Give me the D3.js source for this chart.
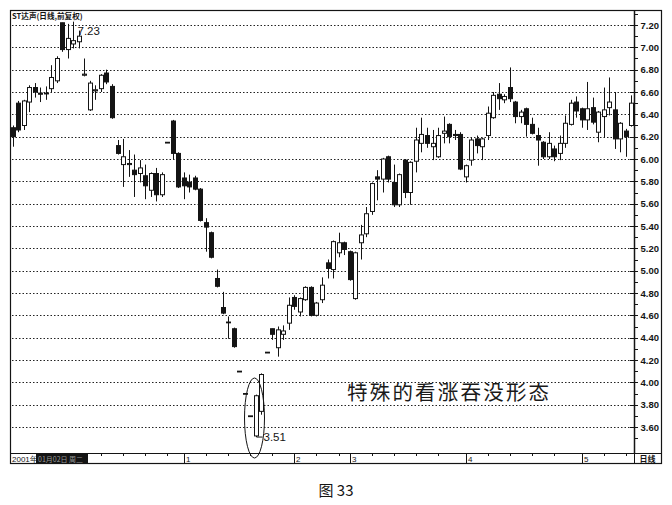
<!DOCTYPE html>
<html><head><meta charset="utf-8">
<script src="https://cdn.jsdelivr.net/npm/d3@7"></script>
<style>body{margin:0;background:#fff}svg{display:block}</style>
</head><body>
<svg id="c" width="672" height="505"></svg>
<script>
// ---- data ----
const title = "ST达声(日线,前复权)";
const opens = [6.28,6.50,6.30,6.51,6.64,6.59,6.59,6.63,6.70,7.22,
6.98,7.03,7.05,6.75,6.44,6.61,6.63,6.77,6.65,6.12,
5.95,5.95,5.90,5.87,5.85,5.72,5.87,5.68,6.15,6.34,
6.05,5.83,5.79,5.83,5.73,5.43,5.34,4.93,4.67,4.54,
4.48,4.10,3.90,3.70,3.52,3.74,4.27,4.48,4.31,4.43,
4.53,4.76,4.63,4.74,4.85,4.60,4.74,5.07,5.01,5.16,
5.25,5.17,4.75,5.25,5.33,5.53,5.84,5.82,6.02,5.79,
5.59,5.99,5.70,5.98,6.14,6.21,6.11,6.02,6.23,6.31,
6.22,6.22,5.84,5.99,6.18,6.11,6.21,6.37,6.58,6.53,
6.64,6.51,6.38,6.45,6.31,6.21,6.15,6.02,6.09,6.05,
6.14,6.31,6.51,6.45,6.35,6.46,6.24,6.38,6.46,6.44,
6.18,6.25,6.30];
const closes = [6.20,6.26,6.52,6.64,6.60,6.58,6.59,6.73,6.90,6.98,
7.08,7.06,7.10,6.76,6.68,6.62,6.75,6.69,6.37,6.05,
6.02,5.96,5.86,5.92,5.76,5.87,5.68,5.86,6.15,6.05,
5.75,5.76,5.75,5.73,5.45,5.39,5.12,4.86,4.62,4.54,
4.32,4.10,3.90,3.70,3.88,4.07,4.27,4.43,4.47,4.46,
4.69,4.68,4.75,4.85,4.60,4.71,4.87,5.02,5.26,5.25,
5.19,4.92,5.16,5.32,5.51,5.78,5.82,6.00,5.82,5.59,
5.86,5.70,5.97,6.17,6.22,6.14,6.14,6.21,6.25,6.20,
6.21,5.91,5.94,6.17,6.12,6.18,6.41,6.57,6.54,6.56,
6.54,6.38,6.42,6.31,6.23,6.17,6.02,6.14,6.02,6.14,
6.32,6.50,6.43,6.35,6.45,6.33,6.42,6.44,6.51,6.18,
6.32,6.20,6.50];
const highs = [6.30,6.52,6.53,6.66,6.68,6.64,6.65,6.84,6.92,7.22,
7.21,7.23,7.15,6.90,6.70,6.66,6.76,6.80,6.67,6.17,
6.18,6.08,6.04,5.99,5.95,5.88,5.92,5.88,6.15,6.35,
6.06,5.88,5.86,5.85,5.74,5.47,5.35,5.01,4.81,4.59,
4.49,4.10,3.90,3.70,3.89,4.08,4.27,4.48,4.50,4.51,
4.76,4.78,4.76,4.86,4.86,4.72,4.94,5.10,5.27,5.34,
5.26,5.18,5.17,5.41,5.57,5.79,5.90,6.01,6.03,5.95,
5.87,6.00,5.98,6.28,6.37,6.28,6.26,6.28,6.38,6.32,
6.26,6.24,5.95,6.19,6.21,6.19,6.47,6.60,6.68,6.58,
6.82,6.52,6.44,6.46,6.37,6.28,6.16,6.24,6.12,6.21,
6.39,6.53,6.56,6.46,6.69,6.55,6.43,6.64,6.73,6.60,
6.33,6.27,6.57];
const lows = [6.11,6.24,6.26,6.42,6.55,6.51,6.53,6.60,6.68,6.96,
6.90,6.99,6.99,6.74,6.43,6.53,6.60,6.67,6.36,6.04,
5.75,5.84,5.66,5.79,5.64,5.66,5.62,5.66,6.15,6.00,
5.74,5.64,5.70,5.72,5.44,5.17,5.11,4.85,4.61,4.39,
4.31,4.10,3.90,3.70,3.51,3.71,4.27,4.38,4.23,4.38,
4.47,4.65,4.59,4.73,4.59,4.59,4.71,4.93,4.93,5.12,
5.14,4.91,4.74,5.10,5.30,5.50,5.63,5.70,5.79,5.57,
5.57,5.65,5.59,5.88,6.06,6.10,5.99,6.01,6.14,6.14,
6.17,5.90,5.79,5.94,6.05,5.99,6.17,6.36,6.44,6.50,
6.51,6.32,6.32,6.20,6.22,5.94,6.00,6.00,5.98,5.99,
6.10,6.30,6.37,6.28,6.26,6.31,6.15,6.19,6.39,6.09,
6.06,6.02,6.29];
const monthStarts = [31,51,61,82,103];
const monthLabels = ["1","2","3","4","5"];
const priceTicks = [3.6,3.8,4.0,4.2,4.4,4.6,4.8,5.0,5.2,5.4,5.6,5.8,6.0,6.2,6.4,6.6,6.8,7.0,7.2];
const highLabel = "7.23", lowLabel = "3.51";
const noteText = "特殊的看涨吞没形态";
const caption = "图 33";

// ---- layout ----
const svg = d3.select("#c");
const L = 10, R = 634, T = 10, B = 453, AX = 661, SH = 10;
const n = opens.length;
const x = d3.scaleBand().domain(d3.range(n)).range([L, R]).paddingInner(0.28).paddingOuter(0.1);
const y = d3.scaleLinear().domain([3.6, 7.2]).range([427, 25]);
const ink = "#141414";

// frame
svg.append("rect").attr("x", L+0.5).attr("y", T+0.5).attr("width", AX-L).attr("height", B+SH-T)
  .attr("fill", "none").attr("stroke", ink).attr("stroke-width", 1.2);

// grid
svg.append("g").selectAll("line").data(priceTicks).join("line")
  .attr("x1", L+2).attr("x2", R-2)
  .attr("y1", d => Math.round(y(d))+0.5).attr("y2", d => Math.round(y(d))+0.5)
  .attr("stroke", "#222").attr("stroke-width", 1).attr("stroke-dasharray", "1.5,2");

// right axis
const ya = d3.axisRight(y).tickValues(priceTicks).tickFormat(d3.format(".2f")).tickSize(0).tickPadding(0);
const gA = svg.append("g").attr("transform", `translate(${R+0.5},0)`).call(ya);
gA.select(".domain").attr("stroke", ink).attr("stroke-width", 1.5).attr("d", `M0,${T}V${B}`);
gA.selectAll("text").attr("x", 24.5).attr("text-anchor", "end")
  .attr("font-family", "Liberation Sans, Arial, sans-serif").attr("font-size", 9.5)
  .attr("font-weight", "bold").attr("fill", ink);
const minor = d3.range(3.5, 7.31, 0.1);
svg.append("g").selectAll("line").data(minor).join("line")
  .attr("x1", R+1).attr("x2", R+4)
  .attr("y1", d => Math.round(y(d))+0.5).attr("y2", d => Math.round(y(d))+0.5)
  .attr("stroke", ink);
svg.append("g").selectAll("line").data(priceTicks).join("line")
  .attr("x1", R-4).attr("x2", R)
  .attr("y1", d => Math.round(y(d))+0.5).attr("y2", d => Math.round(y(d))+0.5)
  .attr("stroke", ink);

// title
svg.append("text").attr("x", L+2).attr("y", T+8.5).text(title)
  .attr("font-family", "Noto Sans CJK SC, sans-serif").attr("font-size", 7.6).attr("font-weight", "bold").attr("fill", ink);

// candles
const g = svg.append("g");
const bw = x.bandwidth();
const cx = i => Math.round(x(i) + bw/2) + 0.5;
g.selectAll("line.w").data(d3.range(n)).join("line").attr("class", "w")
  .attr("x1", cx).attr("x2", cx)
  .attr("y1", i => y(highs[i])).attr("y2", i => y(lows[i]))
  .attr("stroke", ink).attr("stroke-width", 1);
g.selectAll("rect.b").data(d3.range(n)).join("rect").attr("class", "b")
  .attr("x", i => Math.round(x(i)) + 0.5).attr("width", Math.round(bw))
  .attr("y", i => y(Math.max(opens[i], closes[i])))
  .attr("height", i => Math.max(0.8, Math.abs(y(opens[i]) - y(closes[i]))))
  .attr("fill", i => closes[i] < opens[i] ? ink : "#fff")
  .attr("stroke", ink).attr("stroke-width", 1);

// high/low labels
const iHi = d3.maxIndex(highs), iLo = d3.minIndex(lows);
svg.append("text").attr("x", cx(iHi) + 4).attr("y", y(highs[iHi]) + 13).text(highLabel)
  .attr("font-family", "Liberation Sans, Arial, sans-serif").attr("font-size", 11.5).attr("fill", ink);
svg.append("line").attr("x1", cx(iLo)).attr("x2", cx(iLo)+6)
  .attr("y1", y(lows[iLo])).attr("y2", y(lows[iLo])).attr("stroke", ink);
svg.append("text").attr("x", cx(iLo) + 7).attr("y", y(lows[iLo]) + 4).text(lowLabel)
  .attr("font-family", "Liberation Sans, Arial, sans-serif").attr("font-size", 11.5).attr("fill", ink);

// ellipse around pattern
svg.append("ellipse").attr("cx", cx(iLo) - 2).attr("cy", 418).attr("rx", 10).attr("ry", 40)
  .attr("fill", "none").attr("stroke", ink).attr("stroke-width", 1);

// note
svg.append("text").attr("x", 347).attr("y", 400).text(noteText)
  .attr("font-family", "Noto Sans CJK SC, sans-serif").attr("font-size", 20.5)
  .attr("letter-spacing", 2.2).attr("fill", "#1a1a1a");

// bottom strip
svg.append("line").attr("x1", L).attr("x2", AX).attr("y1", B+0.5).attr("y2", B+0.5).attr("stroke", ink).attr("stroke-width", 1.2);
svg.append("line").attr("x1", R+0.5).attr("x2", R+0.5).attr("y1", B).attr("y2", B+SH).attr("stroke", ink);
svg.append("text").attr("x", L+2).attr("y", B+8.5).text("2001年")
  .attr("font-family", "Liberation Sans, sans-serif").attr("font-size", 8).attr("fill", ink);
svg.append("rect").attr("x", 36).attr("y", B+1).attr("width", 52).attr("height", SH-1).attr("fill", ink);
svg.append("text").attr("x", 38).attr("y", B+8.5).text("01月02日 周二")
  .attr("font-family", "Noto Sans CJK SC, sans-serif").attr("font-size", 7).attr("fill", "#999");
const bounds = [0, ...monthStarts, n];
const weekTicks = [];
for (let k = 0; k < bounds.length - 1; k++)
  for (let i = bounds[k] + 4; i < bounds[k+1] - 1; i += 4) weekTicks.push(i);
svg.append("g").selectAll("line").data(weekTicks.filter(i => x(i) > 92)).join("line")
  .attr("x1", i => cx(i)).attr("x2", i => cx(i)).attr("y1", B).attr("y2", B+3).attr("stroke", ink);
const mg = svg.append("g").selectAll("g").data(monthStarts).join("g");
mg.append("line").attr("x1", i => cx(i)).attr("x2", i => cx(i)).attr("y1", B).attr("y2", B+SH).attr("stroke", ink);
mg.append("text").attr("x", i => cx(i) + 1.5).attr("y", B+8.5).text((d, k) => monthLabels[k])
  .attr("font-family", "Liberation Sans, sans-serif").attr("font-size", 8).attr("fill", ink);
svg.append("text").attr("x", 647.5).attr("y", B+8.5).attr("text-anchor", "middle").text("日线")
  .attr("font-family", "Noto Sans CJK SC, sans-serif").attr("font-size", 8).attr("font-weight", "bold").attr("fill", ink);

// caption
svg.append("text").attr("x", 336).attr("y", 496).attr("text-anchor", "middle").text(caption)
  .attr("font-family", "Noto Sans CJK SC, sans-serif").attr("font-size", 15).attr("fill", ink);
</script>
</body></html>
